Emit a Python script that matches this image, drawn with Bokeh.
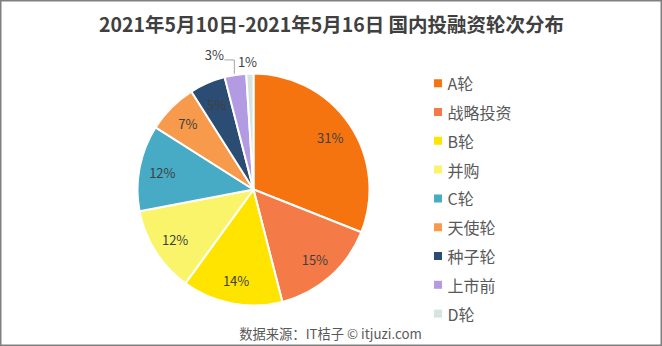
import math
from bokeh.plotting import figure
from bokeh.models import Range1d, ColumnDataSource
from bokeh.core.properties import value
from bokeh.embed import file_html
from bokeh.resources import INLINE

# ---- data ----
title = "2021年5月10日-2021年5月16日 国内投融资轮次分布"
categories = ["A轮", "战略投资", "B轮", "并购", "C轮", "天使轮", "种子轮", "上市前", "D轮"]
shares = [31, 15, 14, 12, 12, 7, 5, 3, 1]
colors = ["#F57410", "#F47A48", "#FFE400", "#F9F46A", "#47ABC6",
          "#F79A4B", "#2B4C73", "#B39BE3", "#D4E4E0"]
footer = "数据来源：IT桔子 © itjuzi.com"

W, H = 662, 346
FONT = value("Noto Sans CJK SC")

def sy(y):
    return H - y

p = figure(width=W, height=H, output_backend="svg", toolbar_location=None,
           x_range=Range1d(0, W), y_range=Range1d(0, H),
           x_axis_type=None, y_axis_type=None, min_border=0)
p.grid.visible = False
p.outline_line_color = "#808080"
p.outline_line_width = 2
p.background_fill_color = "white"
p.border_fill_color = "white"

# ---- pie ----
cx, cy, R = 253, sy(189), 116
total = float(sum(shares))
starts, ends, mids = [], [], []
acc = 0.0
for v in shares:
    a0 = acc / total
    acc += v
    a1 = acc / total
    # clockwise from 12 o'clock
    starts.append(math.pi / 2 - a1 * 2 * math.pi)
    ends.append(math.pi / 2 - a0 * 2 * math.pi)
    mids.append(math.pi / 2 - (a0 + a1) / 2 * 2 * math.pi)

src = ColumnDataSource(dict(start=starts, end=ends, color=colors, cat=categories))
p.wedge(x=cx, y=cy, radius=R, start_angle="start", end_angle="end",
        fill_color="color", line_color="white", line_width=2, source=src)

# ---- percent labels ----
lx, ly, lt = [], [], []
small = []
for i, (v, m) in enumerate(zip(shares, mids)):
    if v >= 4:
        lx.append(cx + 0.8 * R * math.cos(m))
        ly.append(cy + 0.8 * R * math.sin(m))
        lt.append(f"{v}%")
    else:
        small.append((i, v, m))
p.text(x=lx, y=ly, text=lt, text_align="center", text_baseline="middle",
       text_font=FONT, text_font_size="13px", text_color="#404040")

# outside labels for the smallest slices
for i, v, m in small:
    ex = cx + R * math.cos(m)
    ey = cy + R * math.sin(m)
    if v == 3:
        # label shifted up-left with leader line
        tx, ty = ex - 21, ey + 20
        p.line(x=[tx + 10, ex - 1, ex - 1], y=[ty - 5, ty - 5, ey + 1],
               line_color="#A6A6A6", line_width=1)
        p.text(x=[tx], y=[ty], text=[f"{v}%"], text_align="center",
               text_baseline="middle", text_font=FONT, text_font_size="13px",
               text_color="#404040")
    else:
        tx = cx + 1.1 * R * math.cos(m) - 2
        ty = cy + 1.1 * R * math.sin(m)
        p.text(x=[tx], y=[ty], text=[f"{v}%"], text_align="center",
               text_baseline="middle", text_font=FONT, text_font_size="13px",
               text_color="#404040")

# ---- legend ----
leg_y = [sy(82.7 + 28.8 * i) for i in range(len(categories))]
p.scatter(x=[437.5] * len(categories), y=leg_y, marker="square", size=8,
          fill_color=colors, line_color=None)
p.text(x=[447] * len(categories), y=leg_y, text=categories, text_align="left",
       text_baseline="middle", text_font=FONT, text_font_size="16px",
       text_color="#595959")

# ---- title & footer ----
p.text(x=[331], y=[sy(23)], text=[title], text_align="center", text_baseline="middle",
       text_font=FONT, text_font_size="19.5px", text_font_style="bold",
       text_color="#404040")
p.text(x=[330], y=[sy(333)], text=[footer], text_align="center", text_baseline="middle",
       text_font=FONT, text_font_size="13.3px", text_color="#595959")

open("out.html", "w").write(file_html(p, INLINE))
